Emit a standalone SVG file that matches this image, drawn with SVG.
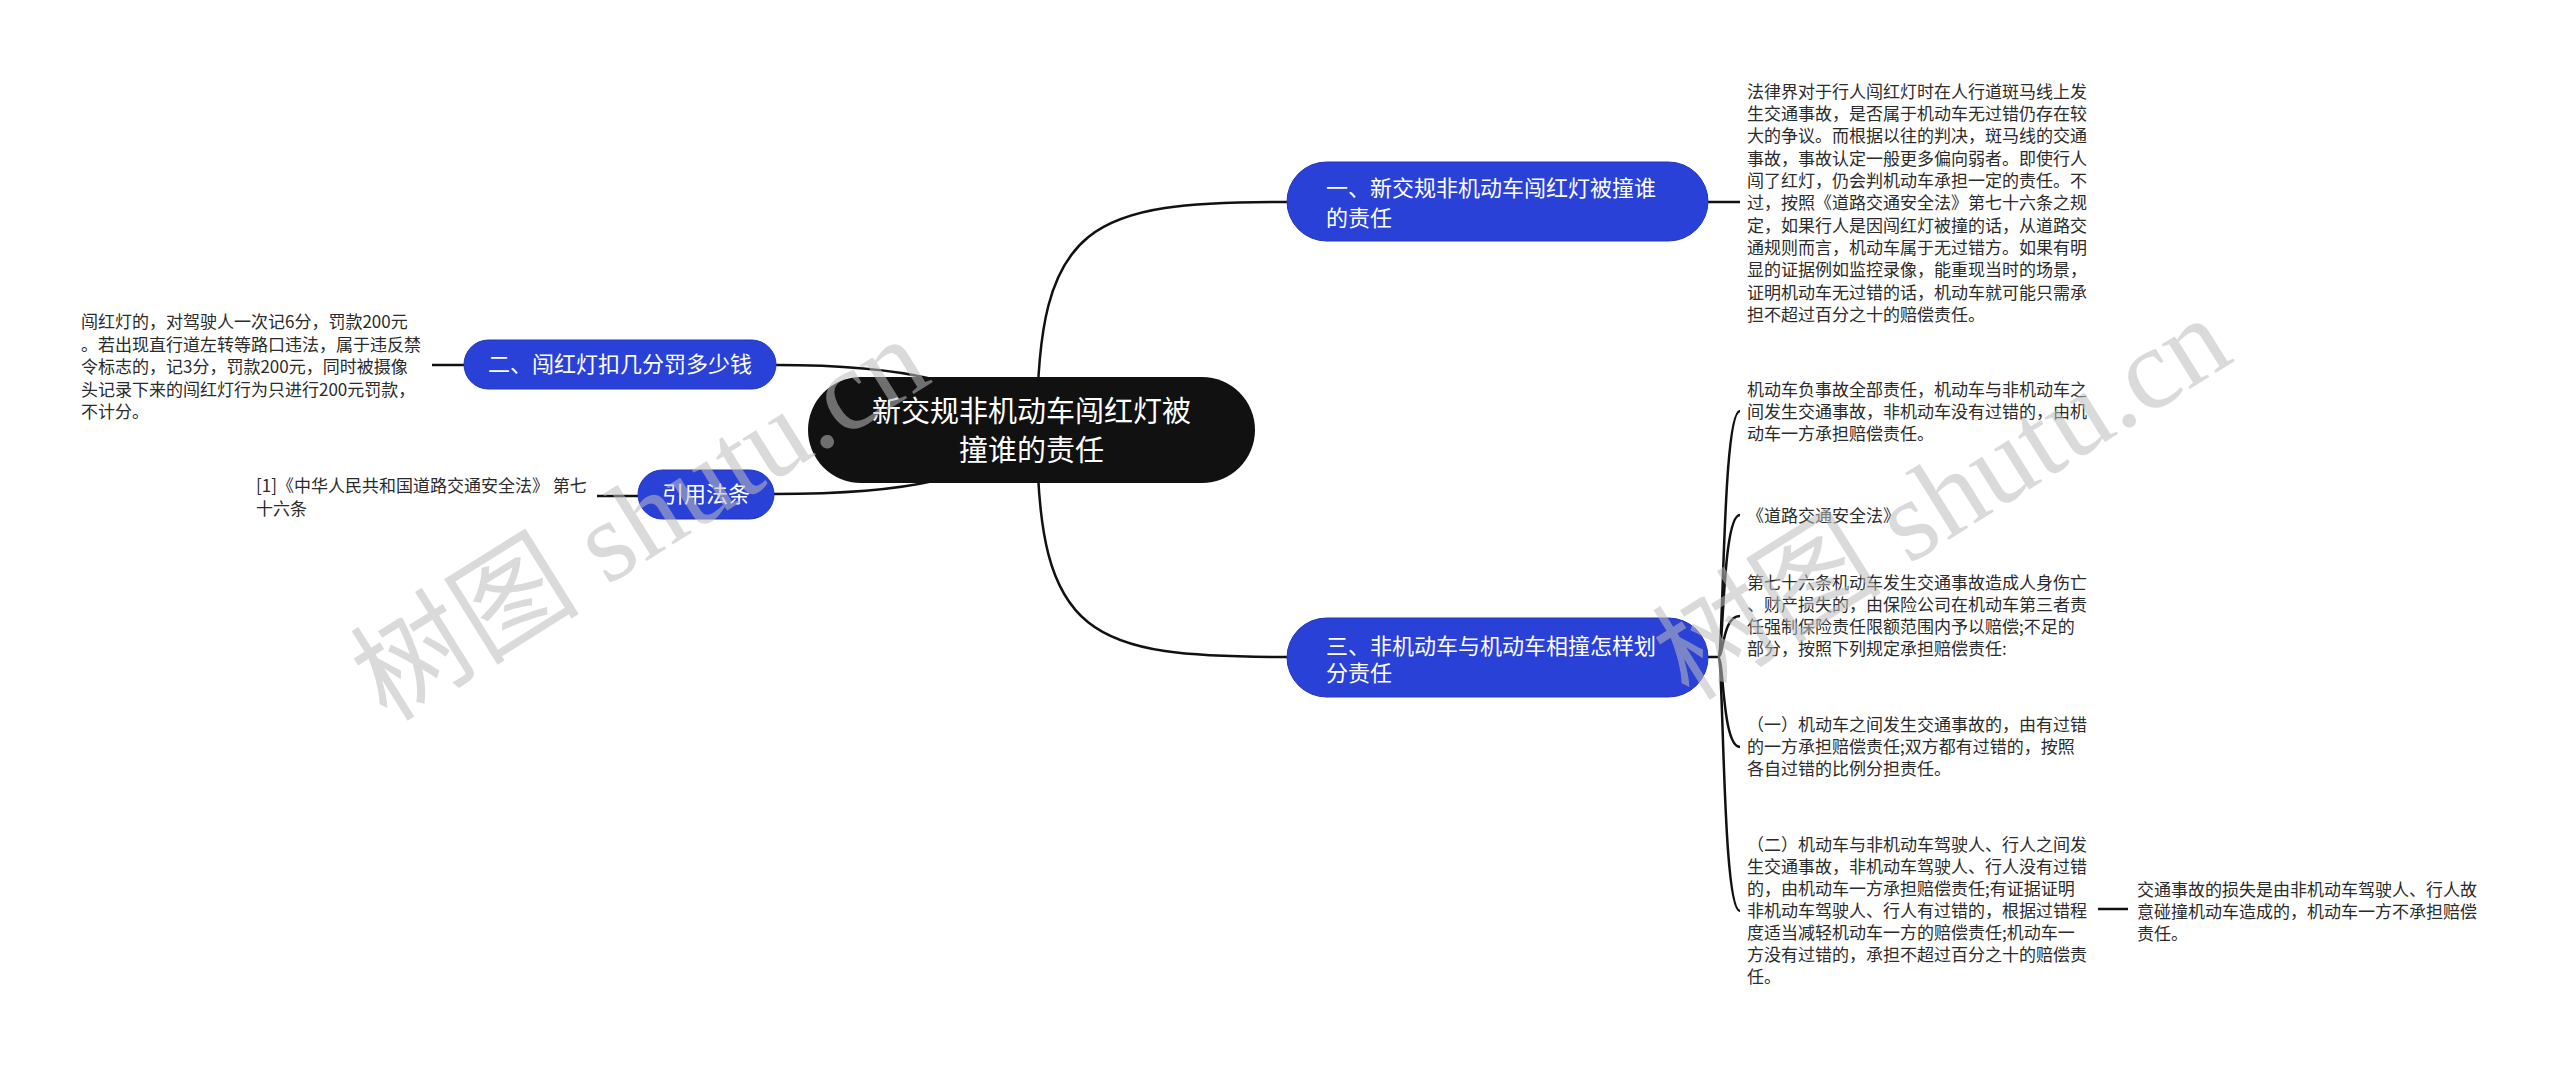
<svg xmlns="http://www.w3.org/2000/svg" width="2560" height="1066" viewBox="0 0 2560 1066">
<style>
.bg{fill:#ffffff}
.link{fill:none;stroke:#111;stroke-width:2.5}
.root{fill:#111111}
.branch{fill:#2a41d8;stroke:#2235b8;stroke-width:1}
.rt{font-family:"Noto Sans CJK SC","Microsoft YaHei",sans-serif;font-size:29px;fill:#ffffff;text-anchor:middle}
.bt{font-family:"Noto Sans CJK SC","Microsoft YaHei",sans-serif;font-size:22px;fill:#ffffff}
.t{font-family:"Noto Sans CJK SC","Microsoft YaHei",sans-serif;font-size:17px;fill:#2b2b2b}
.wm{font-family:"Liberation Serif","Noto Sans CJK SC",serif;font-size:115px;fill:#bdbdbd;opacity:0.55;text-anchor:middle}
</style>
<rect class="bg" x="0" y="0" width="2560" height="1066"/>
<g id="connectors">
<path class="link" d="M1037 430 C1037 220 1090 202 1287 202"/>
<path class="link" d="M1037 430 C1037 640 1090 657 1287 657"/>
<path class="link" d="M1031 430 C980 380 900 365 776 365"/>
<path class="link" d="M1031 430 C985 480 905 494 774 494"/>
<path class="link" d="M1708 202 H1740"/>
<path class="link" d="M464 365 H432"/>
<path class="link" d="M638 496 H597"/>
<path class="link" d="M1708 657 H1718 C1724 657 1722 411 1740 411"/>
<path class="link" d="M1718 657 C1724 657 1722 515 1740 515"/>
<path class="link" d="M1718 657 C1724 657 1722 616 1740 616"/>
<path class="link" d="M1718 657 C1724 657 1722 747 1740 747"/>
<path class="link" d="M1718 657 C1724 657 1722 911 1740 911"/>
<path class="link" d="M2098 909 H2128"/>
</g>
<g id="root">
<rect class="root" x="808" y="377" width="447" height="106" rx="53"/>
<text class="rt" x="1031.5" y="422">新交规非机动车闯红灯被</text>
<text class="rt" x="1031.5" y="461">撞谁的责任</text>
</g>
<g id="branch1">
<rect class="branch" x="1287" y="162" width="421" height="79" rx="39.5"/>
<text class="bt" x="1326" y="196">一、新交规非机动车闯红灯被撞谁</text>
<text class="bt" x="1326" y="226">的责任</text>
</g>
<g id="branch1-detail">
<text class="t" x="1747" y="75.5">
<tspan x="1747" dy="22.3">法律界对于行人闯红灯时在人行道斑马线上发</tspan>
<tspan x="1747" dy="22.3">生交通事故，是否属于机动车无过错仍存在较</tspan>
<tspan x="1747" dy="22.3">大的争议。而根据以往的判决，斑马线的交通</tspan>
<tspan x="1747" dy="22.3">事故，事故认定一般更多偏向弱者。即使行人</tspan>
<tspan x="1747" dy="22.3">闯了红灯，仍会判机动车承担一定的责任。不</tspan>
<tspan x="1747" dy="22.3">过，按照《道路交通安全法》第七十六条之规</tspan>
<tspan x="1747" dy="22.3">定，如果行人是因闯红灯被撞的话，从道路交</tspan>
<tspan x="1747" dy="22.3">通规则而言，机动车属于无过错方。如果有明</tspan>
<tspan x="1747" dy="22.3">显的证据例如监控录像，能重现当时的场景，</tspan>
<tspan x="1747" dy="22.3">证明机动车无过错的话，机动车就可能只需承</tspan>
<tspan x="1747" dy="22.3">担不超过百分之十的赔偿责任。</tspan>
</text>
</g>
<g id="branch2">
<rect class="branch" x="464" y="340" width="312" height="49" rx="24.5"/>
<text class="bt" x="620" y="372" text-anchor="middle">二、闯红灯扣几分罚多少钱</text>
</g>
<g id="branch2-detail">
<text class="t" x="81" y="305.5">
<tspan x="81" dy="22.5">闯红灯的，对驾驶人一次记6分，罚款200元</tspan>
<tspan x="81" dy="22.5">。若出现直行道左转等路口违法，属于违反禁</tspan>
<tspan x="81" dy="22.5">令标志的，记3分，罚款200元，同时被摄像</tspan>
<tspan x="81" dy="22.5">头记录下来的闯红灯行为只进行200元罚款，</tspan>
<tspan x="81" dy="22.5">不计分。</tspan>
</text>
</g>
<g id="branch-ref">
<rect class="branch" x="638" y="470" width="136" height="49" rx="24.5"/>
<text class="bt" x="706" y="502" text-anchor="middle">引用法条</text>
</g>
<g id="ref-detail">
<text class="t" x="256" y="469.5">
<tspan x="256" dy="22.5">[1]《中华人民共和国道路交通安全法》 第七</tspan>
<tspan x="256" dy="22.5">十六条</tspan>
</text>
</g>
<g id="branch3">
<rect class="branch" x="1287" y="618" width="421" height="79" rx="39.5"/>
<text class="bt" x="1326" y="654">三、非机动车与机动车相撞怎样划</text>
<text class="bt" x="1326" y="681">分责任</text>
</g>
<g id="c1">
<text class="t" x="1747" y="374">
<tspan x="1747" dy="22">机动车负事故全部责任，机动车与非机动车之</tspan>
<tspan x="1747" dy="22">间发生交通事故，非机动车没有过错的，由机</tspan>
<tspan x="1747" dy="22">动车一方承担赔偿责任。</tspan>
</text>
</g>
<g id="c2">
<text class="t" x="1747" y="521.5">《道路交通安全法》</text>
</g>
<g id="c3">
<text class="t" x="1747" y="567">
<tspan x="1747" dy="22">第七十六条机动车发生交通事故造成人身伤亡</tspan>
<tspan x="1747" dy="22">、财产损失的，由保险公司在机动车第三者责</tspan>
<tspan x="1747" dy="22">任强制保险责任限额范围内予以赔偿;不足的</tspan>
<tspan x="1747" dy="22">部分，按照下列规定承担赔偿责任:</tspan>
</text>
</g>
<g id="c4">
<text class="t" x="1747" y="709">
<tspan x="1747" dy="22">（一）机动车之间发生交通事故的，由有过错</tspan>
<tspan x="1747" dy="22">的一方承担赔偿责任;双方都有过错的，按照</tspan>
<tspan x="1747" dy="22">各自过错的比例分担责任。</tspan>
</text>
</g>
<g id="c5">
<text class="t" x="1747" y="829">
<tspan x="1747" dy="22">（二）机动车与非机动车驾驶人、行人之间发</tspan>
<tspan x="1747" dy="22">生交通事故，非机动车驾驶人、行人没有过错</tspan>
<tspan x="1747" dy="22">的，由机动车一方承担赔偿责任;有证据证明</tspan>
<tspan x="1747" dy="22">非机动车驾驶人、行人有过错的，根据过错程</tspan>
<tspan x="1747" dy="22">度适当减轻机动车一方的赔偿责任;机动车一</tspan>
<tspan x="1747" dy="22">方没有过错的，承担不超过百分之十的赔偿责</tspan>
<tspan x="1747" dy="22">任。</tspan>
</text>
</g>
<g id="c5-child">
<text class="t" x="2137" y="874">
<tspan x="2137" dy="22">交通事故的损失是由非机动车驾驶人、行人故</tspan>
<tspan x="2137" dy="22">意碰撞机动车造成的，机动车一方不承担赔偿</tspan>
<tspan x="2137" dy="22">责任。</tspan>
</text>
</g>
<g id="watermarks">
<text class="wm" x="640" y="558" transform="rotate(-32 640 519)">树图 shutu.cn</text>
<text class="wm" x="1942" y="537" transform="rotate(-32 1942 498)">树图 shutu.cn</text>
</g>
</svg>
